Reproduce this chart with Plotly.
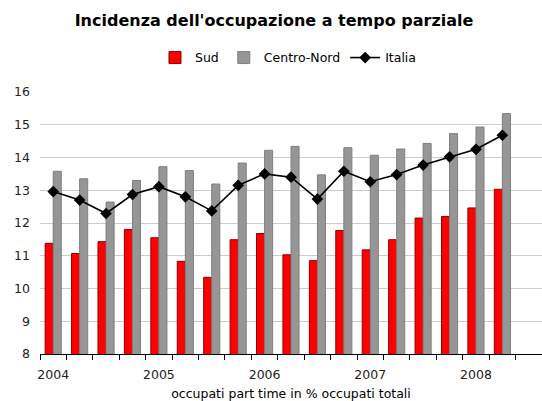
import plotly.graph_objects as go

# Quarterly periods 2004 Q1 - 2008 Q3 (last quarter not yet available)
quarters = [f"{y} T{q}" for y in range(2004, 2009) for q in range(1, 5)][:19]
year_labels = [q.split()[0] if q.endswith("T1") else "" for q in quarters]

sud = [11.38, 11.07, 11.43, 11.8, 11.55, 10.83, 10.34, 11.49, 11.68,
       11.03, 10.85, 11.77, 11.18, 11.49, 12.15, 12.2, 12.46, 13.03, None]
centro_nord = [13.58, 13.35, 12.64, 13.3, 13.72, 13.6, 13.19, 13.83, 14.22,
               14.34, 13.47, 14.3, 14.07, 14.26, 14.43, 14.73, 14.93, 15.34, None]
italia = [12.96, 12.7, 12.29, 12.87, 13.11, 12.8, 12.37, 13.15, 13.5,
          13.4, 12.73, 13.58, 13.26, 13.48, 13.77, 14.02, 14.25, 14.68, None]

FONT = "DejaVu Sans"

fig = go.Figure()
fig.add_trace(go.Bar(
    x=quarters, y=sud, name="Sud",
    marker=dict(color="#FF0000", line=dict(color="#8B0000", width=1)),
))
fig.add_trace(go.Bar(
    x=quarters, y=centro_nord, name="Centro-Nord",
    marker=dict(color="#969696", line=dict(color="#7F7F7F", width=1)),
))
fig.add_trace(go.Scatter(
    x=quarters, y=italia, name="Italia", mode="lines+markers",
    line=dict(color="#000000", width=1.6),
    marker=dict(symbol="diamond", size=9, color="#000000"),
))

fig.update_layout(
    width=542, height=401,
    margin=dict(l=40, r=0, t=92, b=47),
    paper_bgcolor="white", plot_bgcolor="white",
    font=dict(family=FONT, size=12, color="#222222"),
    title=dict(text="<b>Incidenza dell'occupazione a tempo parziale</b>",
               x=(73 + 475) / 2 / 542, xref="container", xanchor="center",
               y=1 - 20 / 401, yanchor="middle",
               font=dict(family=FONT, size=16, color="#000000")),
    barmode="group", bargap=0.39, bargroupgap=0,
    showlegend=True,
    legend=dict(orientation="h", x=0.495, xanchor="center",
                y=1.13, yanchor="middle",
                font=dict(family=FONT, size=12.5, color="#000000"),
                itemwidth=30, tracegroupgap=0, bgcolor="rgba(0,0,0,0)"),
)

fig.update_xaxes(
    type="category", categoryorder="array", categoryarray=quarters,
    range=[-0.5, 18.5],
    tickmode="array", tickvals=quarters, ticktext=year_labels,
    tickson="boundaries", ticks="outside", ticklen=5, tickcolor="#000000",
    ticklabelstandoff=9,
    showline=True, linecolor="#000000", linewidth=1,
    showgrid=False, tickangle=0,
    tickfont=dict(family=FONT, size=12.5, color="#222222"),
    title=dict(text="occupati part time in % occupati totali", standoff=11,
               font=dict(family=FONT, size=12.5, color="#000000")),
)
fig.update_yaxes(
    range=[8, 16], dtick=1, tick0=8,
    showgrid=True, gridcolor="#CCCCCC", gridwidth=1,
    zeroline=False, showline=False, ticks="",
    ticklabelstandoff=9,
    tickfont=dict(family=FONT, size=12.5, color="#222222"),
)

fig.write_html("out.html")
